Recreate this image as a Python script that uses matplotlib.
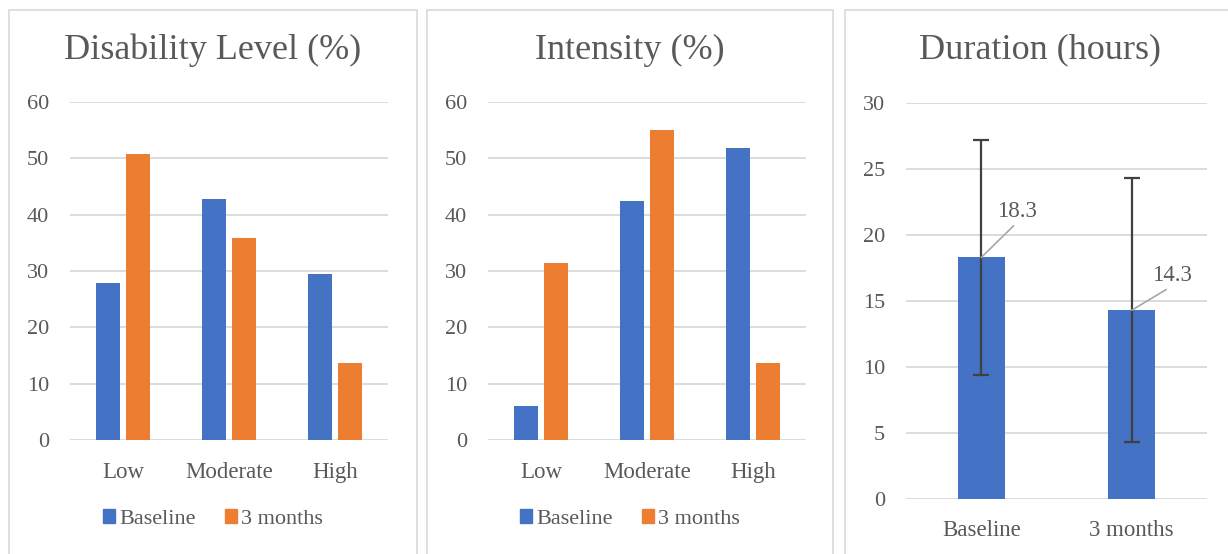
"""Disability, intensity and duration at baseline vs 3 months."""
import matplotlib.pyplot as plt
from matplotlib.patches import Rectangle, Patch
import numpy as np

W, H = 1228, 554
BLUE = "#4472C4"
ORANGE = "#ED7D31"
GRID = "#d9d9d9"
TXT = "#595959"

levels = ["Low", "Moderate", "High"]
disability_base = [27.8, 42.8, 29.4]
disability_3m = [50.8, 35.8, 13.6]
intensity_base = [6.0, 42.5, 51.8]
intensity_3m = [31.4, 55.1, 13.6]

timepoints = ["Baseline", "3 months"]
duration = [18.3, 14.3]
duration_err = [8.9, 10.0]

plt.rcParams["font.family"] = ["Liberation Serif", "DejaVu Serif"]

fig = plt.figure(figsize=(W / 100, H / 100), dpi=100, facecolor="white")


def px_axes(x0, x1, ytop, ybot):
    # pixel box (top-left origin) -> figure axes
    return fig.add_axes([x0 / W, (H - ybot) / H, (x1 - x0) / W, (ybot - ytop) / H])


def box(x0, x1):
    fig.add_artist(Rectangle((x0 / W, -0.1), (x1 - x0) / W, (H - 10) / H + 0.1,
                             transform=fig.transFigure, fill=False,
                             edgecolor=GRID, lw=1.2))


def style(ax, ymax, step):
    ax.set_ylim(0, ymax)
    ax.set_yticks(np.arange(0, ymax + 1, step))
    ax.yaxis.grid(True, color=GRID, lw=1.3)
    ax.set_axisbelow(True)
    for s in ax.spines.values():
        s.set_visible(False)
    ax.tick_params(length=0, labelsize=16, colors=TXT)
    ax.tick_params(axis="y", pad=15)
    ax.tick_params(axis="x", pad=16, labelsize=16.5)


def grouped(ax, base, after, title, cx):
    x = np.arange(len(levels))
    ax.bar(x - 0.139, base, 0.226, color=BLUE, zorder=2)
    ax.bar(x + 0.139, after, 0.226, color=ORANGE, zorder=2)
    ax.set_xlim(-0.5, 2.5)
    ax.set_xticks(x, levels)
    style(ax, 60, 10)
    fig.text(cx / W, (H - 50) / H, title, ha="center", va="center",
             fontsize=26, color=TXT)
    handles = [Patch(color=BLUE, label="Baseline"), Patch(color=ORANGE, label="3 months")]
    ax.legend(handles=handles, loc="center", bbox_to_anchor=(cx / W, (H - 519) / H),
              bbox_transform=fig.transFigure, ncol=2, frameon=False, fontsize=16,
              handlelength=0.55, handleheight=0.55, handletextpad=0.2,
              columnspacing=1.3, labelcolor=TXT)


box(9, 417)
box(427, 833)
box(845, 1240)

ax1 = px_axes(70, 388, 102, 440)
grouped(ax1, disability_base, disability_3m, "Disability Level (%)", 213)

ax2 = px_axes(488, 806, 102, 440)
grouped(ax2, intensity_base, intensity_3m, "Intensity (%)", 630)

# Duration with error bars and leader-line labels
ax3 = px_axes(906, 1207, 103, 499)
x = np.arange(len(timepoints))
ax3.bar(x, duration, 0.31, color=BLUE, zorder=2)
ax3.errorbar(x, duration, yerr=duration_err, fmt="none", ecolor="#404040",
             elinewidth=1.6, capsize=5.5, capthick=1.6, zorder=3)
ax3.set_xlim(-0.5, 1.5)
ax3.set_xticks(x, timepoints)
style(ax3, 30, 5)
ax3.tick_params(axis="x", pad=15)
fig.text(1040 / W, (H - 50) / H, "Duration (hours)", ha="center", va="center",
         fontsize=26, color=TXT)
offsets = [(26, 33), (29, 25)]
for xi, v, off in zip(x, duration, offsets):
    ax3.annotate(f"{v:.1f}", (xi, v), xytext=off, textcoords="offset points",
                 ha="center", va="center", fontsize=16.5, color=TXT, zorder=4,
                 arrowprops=dict(arrowstyle="-", color="#a6a6a6", lw=1.2,
                                 shrinkA=1, shrinkB=0, relpos=(0.5, 0.0)))

fig.savefig("out.png", dpi=100, facecolor=fig.get_facecolor())
